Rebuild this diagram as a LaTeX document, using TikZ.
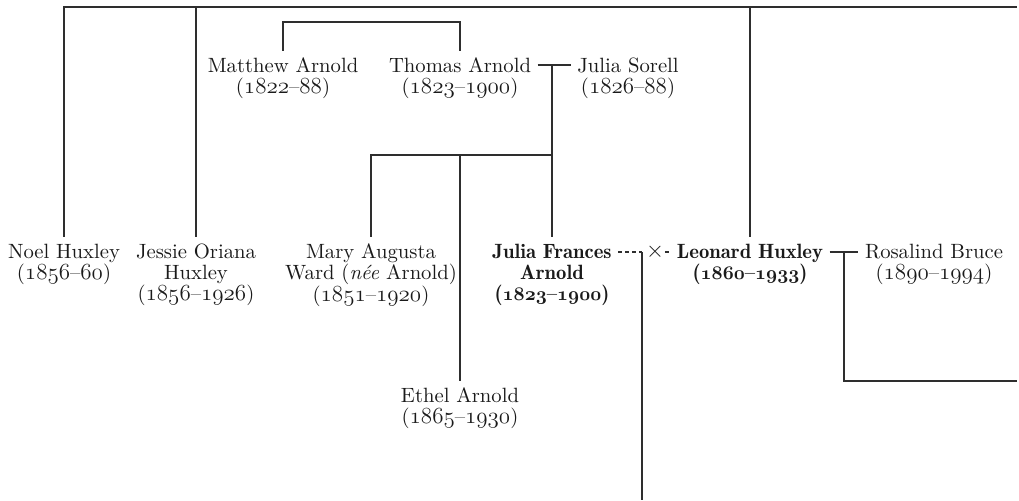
\documentclass[tikz,border=0pt]{standalone}
\usepackage{fontspec}
\setmainfont{lmroman10-regular.otf}[
  BoldFont=lmromandemi10-regular.otf,
  ItalicFont=lmroman10-italic.otf,
  BoldItalicFont=lmromandemi10-oblique.otf]
\usetikzlibrary{calc}
\newcommand{\osn}[1]{{\fontsize{17.5}{15.75}\usefont{OML}{cmm}{m}{it}#1}}
\newcommand{\osnb}[1]{{\fontsize{15.5}{15.75}\usefont{OML}{cmm}{b}{it}#1}}
\newcommand{\lspan}[2]{(\osn{#1}--\osn{#2})}
\newcommand{\lspanb}[2]{(\osnb{#1}--\osnb{#2})}
\newcommand{\pers}[1]{\begin{tabular}[t]{@{}c@{}}#1\end{tabular}}
\definecolor{ink}{HTML}{1A1A1A}
\definecolor{rule}{HTML}{2E2E2E}
\begin{document}
\begin{tikzpicture}[x=0.75pt,y=-0.75pt,
  person/.style={anchor=base, inner sep=0pt, outer xsep=5pt, outer ysep=5pt,
    font=\fontsize{15.5}{15.75}\selectfont, text=ink},
  famline/.style={line width=1pt, draw=rule},
  marline/.style={famline, dash pattern=on 3pt off 2.2pt}]
\useasboundingbox (0,0) rectangle (1019,500);

% people
\node[person] (noel)     at (64,258)  {\pers{Noel Huxley\\\lspan{1856}{60}}};
\node[person] (jessie)   at (196,258) {\pers{Jessie Oriana\\Huxley\\\lspan{1856}{1926}}};
\node[person] (mary)     at (371,258) {\pers{Mary Augusta\\Ward (\textit{née} Arnold)\\\lspan{1851}{1920}}};
\node[person] (juliaf)   at (552,258) {\bfseries\pers{Julia Frances\\Arnold\\\lspanb{1823}{1900}}};
\node[person] (leonard)  at (750,258) {\bfseries\pers{Leonard Huxley\\\lspanb{1860}{1933}}};
\node[person] (rosalind) at (934,258) {\pers{Rosalind Bruce\\\lspan{1890}{1994}}};
\node[person] (matthew)  at (283,72)  {\pers{Matthew Arnold\\\lspan{1822}{88}}};
\node[person] (thomas)   at (460,72)  {\pers{Thomas Arnold\\\lspan{1823}{1900}}};
\node[person] (sorell)   at (628,72)  {\pers{Julia Sorell\\\lspan{1826}{88}}};
\node[person] (ethel)    at (460,402) {\pers{Ethel Arnold\\\lspan{1865}{1930}}};

% junction coordinates
\coordinate (topR) at (1017,7);
\coordinate (brk)  at (0,22);
\coordinate (c1)   at (552,65);
\coordinate (c2)   at (552,155);
\coordinate (d1)   at (642,252);
\coordinate (bot)  at (642,500);
\coordinate (e1)   at (844,381);
\coordinate (eR)   at (1017,381);

% top bar and its children
\draw[famline] (noel.north) |- (topR);
\draw[famline] (jessie.north) -- (jessie.north |- topR);
\draw[famline] (leonard.north) -- (leonard.north |- topR);

% Matthew -- Thomas bracket
\draw[famline] (matthew.north) |- (thomas.north |- brk) -- (thomas.north);

% Thomas Arnold -- Julia Sorell
\draw[famline] ([yshift=5.2pt]thomas.base east) -- ([yshift=5.2pt]sorell.base west);
\draw[famline] (c1) -- (juliaf.north);
\draw[famline] (mary.north) |- (c2);
\draw[famline] (ethel.north) -- (ethel.north |- c2);

% Julia Frances -- Leonard Huxley
\coordinate (jl) at ([yshift=4.5pt]juliaf.base east);
\draw[marline] (jl) -- (jl -| d1);
\draw[famline] (jl -| d1) -- (bot);
\node[inner sep=0.5pt, text=ink, font=\fontsize{17}{17}\selectfont] (wed) at ($(jl -| d1)+(13,0)$) {$\times$};
\draw[marline] (wed.east) -- ([yshift=4.5pt]leonard.base west);

% Leonard Huxley -- Rosalind Bruce
\coordinate (lr) at ([yshift=4.5pt]leonard.base east);
\draw[famline] (lr) -- ([yshift=4.5pt]rosalind.base west);
\draw[famline] (e1 |- lr) -- (e1) -- (eR);
\end{tikzpicture}
\end{document}
